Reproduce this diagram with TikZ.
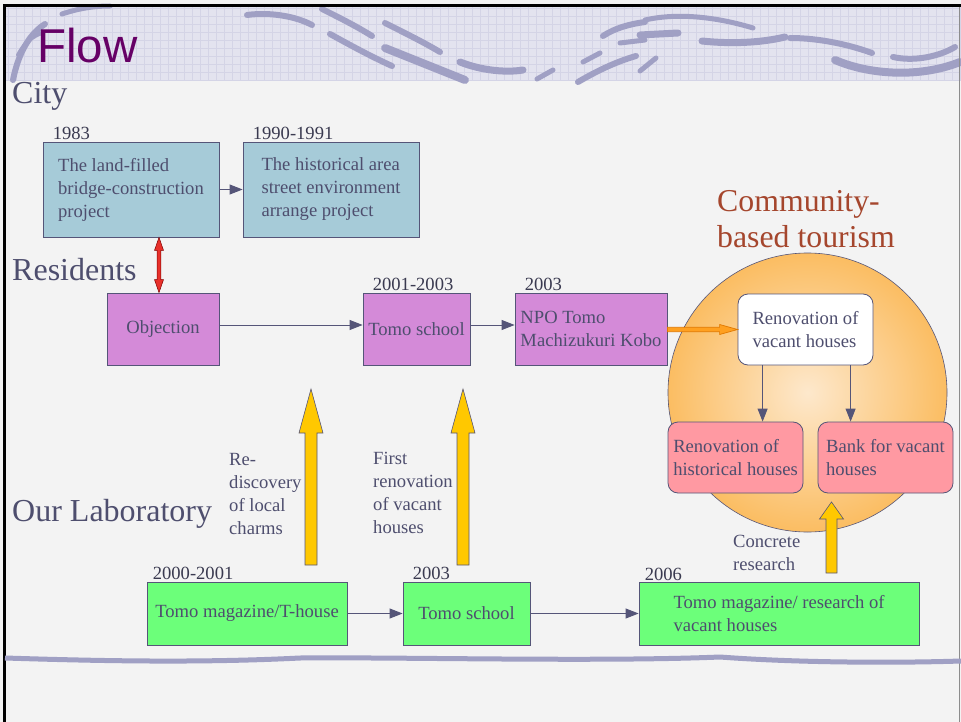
\documentclass[tikz,border=0pt]{standalone}
\usepackage{fontspec}
\setmainfont{Liberation Serif}
\newfontfamily\arialfont{Liberation Sans}
\usetikzlibrary{arrows.meta,calc}

\definecolor{txt}{RGB}{78,78,110}
\definecolor{yeartxt}{RGB}{58,58,80}
\definecolor{edge}{RGB}{85,85,120}
\definecolor{bluefill}{RGB}{166,203,216}
\definecolor{orchidfill}{RGB}{212,138,216}
\definecolor{greenfill}{RGB}{108,255,122}
\definecolor{pinkfill}{RGB}{255,153,162}
\definecolor{yellowfill}{RGB}{255,200,0}
\definecolor{orangefill}{RGB}{255,160,32}
\definecolor{orangeedge}{RGB}{224,120,0}
\definecolor{redfill}{RGB}{232,48,42}
\definecolor{titlec}{RGB}{102,0,102}
\definecolor{commc}{RGB}{165,70,45}
\definecolor{bodybg}{RGB}{243,243,243}
\definecolor{bandbg}{RGB}{227,227,239}
\definecolor{gridc}{RGB}{212,212,230}
\definecolor{swc}{RGB}{160,160,196}
\definecolor{circin}{RGB}{253,232,204}
\definecolor{circout}{RGB}{251,189,98}

\newcommand\mybodyfont{\fontsize{18.6}{23}\selectfont}
\newcommand\mycatfont{\fontsize{32}{36}\selectfont}
\newcommand\mycommfont{\fontsize{31.8}{36}\selectfont}

\newcommand\blockup[6]{% x, tip y, head base y, bottom y, shaft half, head half
  \filldraw[fill=yellowfill, draw=edge, line width=0.6pt]
    (#1-#5,#4) -- (#1-#5,#3) -- (#1-#6,#3) -- (#1,#2) -- (#1+#6,#3)
    -- (#1+#5,#3) -- (#1+#5,#4) -- cycle;}

\begin{document}
\begin{tikzpicture}[x=1pt,y=-1pt,
  box/.style={draw=edge, line width=0.8pt, inner sep=0pt, align=left,
              font=\mybodyfont, text=txt},
  rbox/.style={box, rounded corners=10pt},
  year/.style={font=\mybodyfont, text=yeartxt, inner sep=0pt, anchor=base west},
  lbl/.style={font=\mybodyfont, text=txt, inner sep=0pt, align=left, anchor=north west},
  cat/.style={font=\mycatfont, text=txt, inner sep=0pt, anchor=base west},
  arr/.style={draw=edge, line width=0.9pt, -{Triangle[length=13pt,width=10pt]}},
  swoosh/.style={draw=swc, line cap=round}
]
\useasboundingbox (0,0) rectangle (961,722);

% backgrounds
\fill[bodybg] (0,0) rectangle (961,722);
\fill[bandbg] (4,6) rectangle (961,81);
\foreach \i in {8,16,...,960} \draw[gridc, line width=0.4pt] (\i,7) -- (\i,81);
\foreach \j in {8,16,...,80} \draw[gridc, line width=0.4pt] (4,\j) -- (961,\j);

% header swooshes
\draw[swoosh, line width=6pt] (13,80) .. controls (18,55) and (28,35) .. (45,24);
\draw[swoosh, line width=4pt] (18,55) .. controls (25,42) and (33,36) .. (42,33);
\draw[swoosh, line width=5pt] (62,14) .. controls (80,8) and (95,6) .. (110,6);
\draw[swoosh, line width=6pt] (247,15) .. controls (270,12) and (295,16) .. (312,25);
\draw[swoosh, line width=6pt] (322,9) .. controls (340,18) and (356,26) .. (372,36);
\draw[swoosh, line width=6pt] (330,34) .. controls (350,45) and (370,56) .. (392,66);
\draw[swoosh, line width=6pt] (385,23) .. controls (405,33) and (425,43) .. (440,52);
\draw[swoosh, line width=8pt] (385,48) .. controls (410,58) and (440,70) .. (465,80);
\draw[swoosh, line width=7pt] (460,62) .. controls (480,70) and (505,73) .. (523,70);
\draw[swoosh, line width=5pt] (537,79) -- (553,70);
\draw[swoosh, line width=5pt] (583,62) -- (600,53);
\draw[swoosh, line width=6pt] (578,82) .. controls (595,72) and (615,62) .. (636,56);
\draw[swoosh, line width=6pt] (603,36) .. controls (615,28) and (630,24) .. (645,22);
\draw[swoosh, line width=5pt] (620,43) -- (645,40);
\draw[swoosh, line width=5pt] (645,20) .. controls (680,12) and (720,18) .. (753,28);
\draw[swoosh, line width=7pt] (640,35) -- (678,33);
\draw[swoosh, line width=7pt] (702,41) .. controls (730,44) and (760,43) .. (785,37);
\draw[swoosh, line width=6pt] (790,38) .. controls (820,38) and (850,45) .. (872,53);
\draw[swoosh, line width=5pt] (640,71) -- (656,58);
\draw[swoosh, line width=8pt] (835,60) .. controls (870,75) and (920,78) .. (960,62);
\draw[swoosh, line width=6pt] (893,57) .. controls (915,62) and (940,56) .. (955,47);

% frame
\draw[black, line width=3pt] (4.5,722) -- (4.5,6) -- (961,6);
\draw[black!45, line width=1.5pt] (959.5,7) -- (959.5,722);

% bottom wave
\draw[swc, line width=5pt] (5,658) .. controls (100,661) and (200,663) .. (300,658)
  .. controls (400,657) and (600,662) .. (720,657)
  .. controls (800,663) and (900,663) .. (961,661);

% titles
\node[anchor=base west, inner sep=0pt, text=titlec,
      font=\arialfont\fontsize{47.5}{50}\selectfont] (title) at (37,63) {Flow};
\node[cat] (city) at (12,104) {City};
\node[cat] (residents) at (12,280) {Residents};
\node[cat] (lab) at (12,521) {Our Laboratory};

% community circle
\node[circle, draw=edge, line width=0.6pt, minimum size=279pt, inner sep=0pt,
      inner color=circin, outer color=circout] (circ) at (807.5,392.5) {};
\node[anchor=north west, inner sep=0pt, align=left, text=commc, font=\mycommfont]
  (comm) at (717,190) {Community-\\based tourism};

% City boxes
\node[box, fill=bluefill, minimum width=176pt, minimum height=95pt] (b1983) at (131,189.5)
  {The land-filled\\bridge-construction\\project};
\node[box, fill=bluefill, minimum width=176pt, minimum height=95pt] (b1990) at (331,189.5)
  {The historical area\\street environment\\arrange project};
\node[year] (y1983) at ($(b1983.north west)+(10,-2)$) {1983};
\node[year] (y1990) at ($(b1990.north west)+(10,-2)$) {1990-1991};

% Residents boxes
\node[box, fill=orchidfill, minimum width=112pt, minimum height=72pt] (obj) at (163,329) {Objection};
\node[box, fill=orchidfill, minimum width=107pt, minimum height=72pt] (tsr) at (416.5,329) {Tomo school};
\node[box, fill=orchidfill, minimum width=152pt, minimum height=72pt] (npo) at (591,329)
  {NPO Tomo\\Machizukuri Kobo};
\node[year] (y2001) at ($(tsr.north west)+(10,-2)$) {2001-2003};
\node[year] (y2003a) at ($(npo.north west)+(10,-2)$) {2003};

% circle boxes
\node[rbox, fill=white, minimum width=135pt, minimum height=71pt] (ren) at (805.5,329.5)
  {Renovation of\\vacant houses};
\node[rbox, fill=pinkfill, minimum width=135pt, minimum height=71pt] (hist) at (735.5,457.5)
  {Renovation of\\historical houses};
\node[rbox, fill=pinkfill, minimum width=135pt, minimum height=71pt] (bank) at (885.5,457.5)
  {Bank for vacant\\houses};

% Lab boxes
\node[box, fill=greenfill, minimum width=200pt, minimum height=63pt] (g1) at (247,613.5)
  {Tomo magazine/T-house};
\node[box, fill=greenfill, minimum width=127pt, minimum height=63pt] (g2) at (466.5,613.5)
  {Tomo school};
\node[box, fill=greenfill, minimum width=280pt, minimum height=63pt] (g3) at (779,613.5)
  {Tomo magazine/ research of\\vacant houses};
\node[year] (y2000) at ($(g1.north west)+(6,-2)$) {2000-2001};
\node[year] (y2003b) at ($(g2.north west)+(10,-2)$) {2003};
\node[year] (y2006) at ($(g3.north west)+(6,-1)$) {2006};

% labels
\node[lbl] (lredisc) at (229,453) {Re-\\discovery\\of local\\charms};
\node[lbl] (lfirst) at (373,452) {First\\renovation\\of vacant\\houses};
\node[lbl] (lconc) at (733,535) {Concrete\\research};

% connectors
\draw[arr] (b1983.east) -- (b1990.west);
\draw[arr] ($(obj.east)+(0,-4)$) -- ($(tsr.west)+(0,-4)$);
\draw[arr] ($(tsr.east)+(0,-4)$) -- ($(npo.west)+(0,-4)$);
\coordinate (d1) at ($(ren.south west)+(25,0)$);
\coordinate (d2) at ($(ren.south west)+(113,0)$);
\draw[arr] (d1) -- (d1 |- hist.north);
\draw[arr] (d2) -- (d2 |- bank.north);
\draw[arr] (g1.east) -- (g2.west);
\draw[arr] (g2.east) -- (g3.west);

% red double arrow (b1983 <-> obj)
\coordinate (rtop) at (b1983.south -| 159,0);
\coordinate (rbot) at (obj.north -| 159,0);
\filldraw[fill=redfill, draw=red!50!black, line width=0.5pt]
  (rtop) -- ($(rtop)+(4.5,13)$) -- ($(rtop)+(1.8,13)$) -- ($(rbot)+(1.8,-13)$)
  -- ($(rbot)+(4.5,-13)$) -- (rbot) -- ($(rbot)+(-4.5,-13)$) -- ($(rbot)+(-1.8,-13)$)
  -- ($(rtop)+(-1.8,13)$) -- ($(rtop)+(-4.5,13)$) -- cycle;

% orange arrow (npo -> ren)
\coordinate (oa) at ($(npo.east)+(0,0.5)$);
\coordinate (ob) at ($(ren.west)$);
\filldraw[fill=orangefill, draw=orangeedge, line width=0.7pt]
  ($(oa)+(0,-2.2)$) -- ($(ob)+(-18,-2.2)$) -- ($(ob)+(-18,-5)$) -- (ob)
  -- ($(ob)+(-18,5)$) -- ($(ob)+(-18,2.2)$) -- ($(oa)+(0,2.2)$) -- cycle;

% yellow block arrows
\blockup{311}{389}{433}{565}{6}{12}
\blockup{463}{389}{433}{565}{6}{12}
\blockup{831.5}{502}{519}{573}{5.5}{12}

\end{tikzpicture}
\end{document}
